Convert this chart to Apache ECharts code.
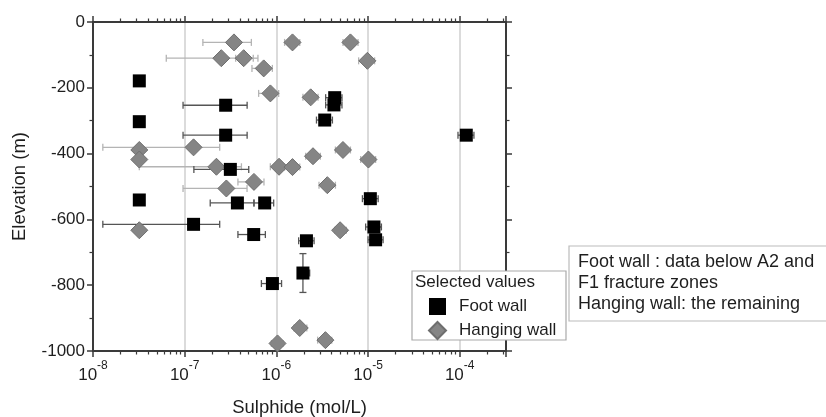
<!DOCTYPE html>
<html>
<head>
<meta charset="utf-8">
<script src="https://cdn.jsdelivr.net/npm/echarts@6/dist/echarts.min.js"></script>
<style>
  html, body { margin: 0; padding: 0; background: #fff; }
  #chart { width: 826px; height: 417px; }
</style>
</head>
<body>
<div id="chart"></div>
<script>
// Foot wall: sulphide (mol/L), elevation (m), horizontal error bar ends
const footX  = [3.2e-8, 2.8e-7, 3.2e-8, 2.8e-7, 3.15e-7, 3.2e-8, 3.76e-7, 7.46e-7, 1.25e-7, 5.66e-7,
                9.06e-7, 4.33e-6, 4.25e-6, 3.37e-6, 1.18e-4, 1.06e-5, 1.16e-5, 1.21e-5, 2.13e-6, 1.95e-6];
const footY  = [-179, -253, -303, -344, -448, -541, -550, -550, -615, -646,
                -795, -230, -252, -298, -344, -537, -623, -662, -665, -763];
const footLo = [null, 9.6e-8, null, 9.6e-8, 1.26e-7, null, 1.9e-7, 5.7e-7, 1.28e-8, 3.81e-7,
                6.87e-7, 3.45e-6, 3.45e-6, 2.74e-6, 9.58e-5, 8.69e-6, 9.42e-6, 1.0e-5, 1.75e-6, 1.75e-6];
const footHi = [null, 4.8e-7, null, 4.8e-7, 5.0e-7, null, 5.7e-7, 9.35e-7, 2.41e-7, 7.59e-7,
                1.14e-6, 5.2e-6, 5.2e-6, 4.09e-6, 1.43e-4, 1.29e-5, 1.40e-5, 1.46e-5, 2.58e-6, 2.31e-6];
// vertical error bar (only one sample has it)
const footYLo = [null, null, null, null, null, null, null, null, null, null,
                 null, null, null, null, null, null, null, null, null, -822];
const footYHi = [null, null, null, null, null, null, null, null, null, null,
                 null, null, null, null, null, null, null, null, null, -704];

// Hanging wall
const hangX  = [3.45e-7, 2.51e-7, 4.4e-7, 7.28e-7, 8.61e-7, 1.5e-6, 6.43e-6, 9.84e-6, 2.37e-6, 1.25e-7,
                3.2e-8, 3.2e-8, 5.33e-6, 2.51e-6, 1.01e-5, 2.22e-7, 1.07e-6, 1.5e-6, 5.7e-7, 3.6e-6,
                2.85e-7, 3.2e-8, 4.96e-6, 1.8e-6, 3.43e-6, 1.03e-6];
const hangY  = [-62, -110, -110, -141, -217, -62, -62, -118, -229, -381,
                -389, -418, -389, -408, -418, -440, -440, -441, -486, -496,
                -506, -633, -633, -930, -967, -977];
const hangLo = [1.58e-7, 6.3e-8, 3.6e-7, 5.42e-7, 6.41e-7, 1.23e-6, 5.34e-6, 7.9e-6, 1.95e-6, 1.28e-8,
                null, null, 4.41e-6, 2.09e-6, 8.32e-6, 3.2e-8, 8.6e-7, 1.23e-6, 3.81e-7, 2.92e-6,
                9.6e-8, null, 4.33e-6, 1.56e-6, 2.82e-6, 8.83e-7];
const hangHi = [5.34e-7, 5.6e-7, 6.3e-7, 9.05e-7, 1.06e-6, 1.8e-6, 7.78e-6, 1.18e-5, 2.85e-6, 2.41e-7,
                null, null, 6.43e-6, 3.02e-6, 1.21e-5, 4.16e-7, 1.33e-6, 1.8e-6, 7.33e-7, 4.41e-6,
                4.79e-7, null, 5.8e-6, 2.15e-6, 4.02e-6, 1.18e-6];

// axes
const xMin = 1e-8, xMax = 3.2e-4;
const yTicks = [0, -200, -400, -600, -800, -1000];
const decades = [1e-8, 1e-7, 1e-6, 1e-5, 1e-4];
const minorMult = [2, 3, 4, 5, 6, 7, 8, 9];

const minorX = [];
decades.forEach(d => minorMult.forEach(m => { if (d * m <= xMax) minorX.push(d * m); }));

const FONT = '"Liberation Sans", Arial, sans-serif';

const zip = (xs, ys, a, b) => xs.map((x, i) => [x, ys[i], a[i], b[i]]).filter(r => r[2] != null);

// horizontal / vertical error bar painter
const errBar = (color, vertical) => (params, api) => {
  const x = api.value(0), y = api.value(1), lo = api.value(2), hi = api.value(3);
  const p1 = vertical ? api.coord([x, lo]) : api.coord([lo, y]);
  const p2 = vertical ? api.coord([x, hi]) : api.coord([hi, y]);
  const c = 3.5;
  const st = { stroke: color, lineWidth: 1.3 };
  const cap = p => vertical
    ? { type: 'line', shape: { x1: p[0] - c, y1: p[1], x2: p[0] + c, y2: p[1] }, style: st }
    : { type: 'line', shape: { x1: p[0], y1: p[1] - c, x2: p[0], y2: p[1] + c }, style: st };
  return {
    type: 'group',
    children: [
      { type: 'line', shape: { x1: p1[0], y1: p1[1], x2: p2[0], y2: p2[1] }, style: st },
      cap(p1), cap(p2)
    ]
  };
};

const grid = { left: 93, right: 320, top: 22, bottom: 66, outerBoundsMode: 'none', containLabel: false };
const lineCol = '#3a3a3a';
const txtCol = '#1e1e1e';

const logAxisBase = {
  type: 'log', logBase: 10, min: xMin, max: xMax,
  axisLine: { onZero: false, lineStyle: { color: lineCol, width: 2 } },
  axisTick: { inside: false, length: 6, lineStyle: { color: lineCol, width: 1.5 } },
  axisLabel: { show: false },
  splitLine: { show: false }
};
const minorAxis = pos => ({
  type: 'log', logBase: 10, min: xMin, max: xMax, position: pos,
  axisLine: { show: false, onZero: false },
  axisTick: { customValues: minorX, length: 3.5, lineStyle: { color: lineCol, width: 1.2 } },
  axisLabel: { show: false },
  splitLine: { show: false }
});

const option = {
  animation: false,
  grid: grid,
  xAxis: [
    Object.assign({}, logAxisBase, {
      position: 'bottom',
      name: 'Sulphide (mol/L)', nameLocation: 'middle', nameGap: 47,
      nameTextStyle: { fontFamily: FONT, fontSize: 18.5, color: txtCol },
      splitLine: { show: true, lineStyle: { color: '#cfcfcf', width: 1.5 } },
      axisLabel: {
        show: true, margin: 9, color: txtCol, fontFamily: FONT,
        formatter: v => {
          const e = Math.log10(v);
          if (Math.abs(e - Math.round(e)) > 1e-6) return '';
          return '{b|10}{s|' + Math.round(e) + '}';
        },
        rich: {
          b: { fontSize: 17, fontFamily: FONT, color: txtCol, lineHeight: 24, verticalAlign: 'bottom' },
          s: { fontSize: 12, fontFamily: FONT, color: txtCol, lineHeight: 24, verticalAlign: 'top' }
        }
      }
    }),
    minorAxis('bottom'),
    Object.assign({}, logAxisBase, { position: 'top' }),
    minorAxis('top')
  ],
  yAxis: [
    {
      type: 'value', min: -1000, max: 0, interval: 200, position: 'left',
      name: 'Elevation (m)', nameLocation: 'middle', nameGap: 64,
      nameTextStyle: { fontFamily: FONT, fontSize: 18.5, color: txtCol },
      axisLine: { onZero: false, lineStyle: { color: lineCol, width: 2 } },
      axisTick: { length: 6, lineStyle: { color: lineCol, width: 1.5 } },
      minorTick: { show: true, splitNumber: 2, length: 3.5, lineStyle: { color: lineCol, width: 1.2 } },
      axisLabel: { color: txtCol, fontFamily: FONT, fontSize: 17, margin: 8,
        formatter: v => yTicks.indexOf(v) >= 0 ? String(v) : '' },
      splitLine: { show: false }
    },
    {
      type: 'value', min: -1000, max: 0, interval: 200, position: 'right',
      axisLine: { onZero: false, lineStyle: { color: lineCol, width: 2 } },
      axisTick: { length: 6, lineStyle: { color: lineCol, width: 1.5 } },
      minorTick: { show: true, splitNumber: 2, length: 3.5, lineStyle: { color: lineCol, width: 1.2 } },
      axisLabel: { show: false },
      splitLine: { show: false }
    }
  ],
  legend: {
    orient: 'vertical', left: 423, top: 293, z: 20,
    itemWidth: 17, itemHeight: 17, itemGap: 6,
    data: ['Foot wall', 'Hanging wall'],
    textStyle: { fontFamily: FONT, fontSize: 17, color: txtCol, padding: [0, 0, 0, 8] }
  },
  graphic: [
    { type: 'rect', z: 10, shape: { x: 412, y: 271, width: 154, height: 69 },
      style: { fill: '#fff', stroke: '#aaa', lineWidth: 1.2 } },
    { type: 'text', z: 21, x: 415, y: 274,
      style: { text: 'Selected values', font: '17px ' + FONT, fill: txtCol } },
    { type: 'rect', z: 10, shape: { x: 569, y: 246, width: 262, height: 75 },
      style: { fill: '#fff', stroke: '#bbb', lineWidth: 1.2 } },
    { type: 'text', z: 21, x: 578, y: 251,
      style: { text: 'Foot wall : data below A2 and\nF1 fracture zones\nHanging wall: the remaining',
               font: '18px ' + FONT, fill: txtCol, lineHeight: 21.3 } }
  ],
  series: [
    { type: 'custom', name: 'hangErr', renderItem: errBar('#b4b4b4', false),
      data: zip(hangX, hangY, hangLo, hangHi), z: 1, silent: true },
    { type: 'custom', name: 'footErr', renderItem: errBar('#555', false),
      data: zip(footX, footY, footLo, footHi), z: 1, silent: true },
    { type: 'custom', name: 'footErrY', renderItem: errBar('#555', true),
      data: zip(footX, footY, footYLo, footYHi), z: 1, silent: true },
    { type: 'scatter', name: 'Hanging wall', symbol: 'diamond', symbolSize: 17, z: 3,
      itemStyle: { color: '#858585', borderColor: '#6e6e6e', borderWidth: 1, opacity: 1 },
      data: hangX.map((x, i) => [x, hangY[i]]) },
    { type: 'scatter', name: 'Foot wall', symbol: 'rect', symbolSize: 13, z: 4,
      itemStyle: { color: '#000', opacity: 1 },
      data: footX.map((x, i) => [x, footY[i]]) }
  ]
};

const myChart = echarts.init(document.getElementById('chart'));
myChart.setOption(option);
</script>
</body>
</html>
